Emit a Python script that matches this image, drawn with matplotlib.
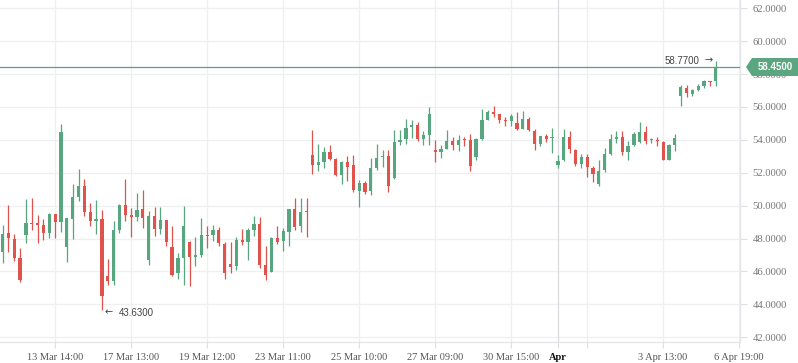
import matplotlib
matplotlib.use("Agg")
import matplotlib.pyplot as plt
from matplotlib.patches import Polygon
import numpy as np

# ---- data ----
opens = [47.20, 48.36, 47.97, 46.83, 48.24, 48.97, 48.95, 48.82, 48.36, 49.50,
         49.03, 47.50, 49.21, 50.55, 51.20, 49.62, 49.09, 49.19, 45.71, 45.43,
         48.52, 50.04, 49.43, 49.33, 49.82, 46.69, 49.37, 48.60, 49.13, 47.50,
         45.88, 46.83, 47.79, 46.89, 47.03, 48.19, 48.19, 48.49, 47.64, 46.48,
         46.32, 47.94, 47.78, 48.55, 48.86, 46.42, 45.98, 48.04, 47.84, 48.39,
         49.77, 48.75, 49.65, 53.10, 52.49, 52.63, 53.28, 52.86, 51.88, 52.67,
         52.49, 50.91, 51.38, 50.87, 52.30, 52.94, 53.04, 51.68, 53.87, 54.07,
         54.76, 54.93, 54.07, 54.32, 53.40, 53.24, 53.46, 53.95, 53.67, 54.01,
         54.01, 52.98, 54.07, 55.23, 55.70, 55.60, 55.23, 55.17, 55.03, 54.68,
         55.29, 54.56, 53.77, 54.22, 54.10, 52.48, 52.75, 54.17, 53.40, 52.56,
         52.93, 52.32, 51.29, 52.14, 53.15, 54.08, 54.17, 53.29, 53.66, 53.86,
         54.45, 53.98, 54.00, 53.90, 52.79, 53.70, 56.64, 57.15, 56.80, 57.05,
         57.29, 57.55, 57.55]
highs = [48.83, 50.04, 48.28, 47.44, 50.41, 50.49, 49.43, 49.19, 49.58, 49.50,
         54.98, 49.25, 51.33, 52.24, 51.63, 50.17, 50.35, 49.74, 46.75, 49.09,
         50.08, 51.63, 49.86, 50.78, 50.96, 49.68, 49.92, 49.92, 49.13, 48.76,
         47.10, 49.98, 47.85, 48.09, 49.22, 48.75, 48.80, 48.71, 47.80, 47.82,
         48.11, 48.61, 48.67, 49.40, 49.34, 47.52, 48.09, 48.77, 48.67, 49.81,
         50.44, 50.44, 50.44, 54.62, 53.77, 53.55, 53.71, 52.90, 52.73, 53.00,
         53.10, 51.54, 51.52, 52.92, 53.77, 53.36, 53.40, 54.62, 54.58, 55.29,
         55.23, 55.09, 54.56, 55.98, 54.01, 53.71, 54.62, 54.17, 54.32, 54.15,
         54.38, 54.11, 55.90, 55.84, 56.08, 55.60, 55.39, 55.57, 55.68, 55.78,
         55.37, 54.66, 54.22, 54.38, 54.71, 53.09, 54.65, 54.51, 53.44, 53.13,
         53.15, 52.44, 52.75, 53.50, 54.33, 54.55, 54.51, 53.96, 54.47, 55.10,
         54.86, 54.12, 54.17, 53.96, 53.76, 54.37, 57.35, 57.31, 57.09, 57.39,
         57.65, 57.61, 58.77]
lows = [46.49, 47.20, 46.65, 45.37, 47.75, 48.52, 47.75, 47.91, 48.05, 48.05,
        48.42, 46.59, 47.99, 50.31, 49.37, 48.79, 48.30, 43.63, 45.17, 45.17,
        48.36, 49.07, 48.11, 49.07, 48.66, 46.41, 48.15, 48.30, 47.57, 45.72,
        45.57, 45.19, 45.11, 46.35, 46.87, 47.42, 47.84, 47.54, 45.53, 45.89,
        46.08, 47.58, 46.69, 48.15, 46.20, 45.47, 45.96, 47.68, 47.23, 47.54,
        48.49, 48.39, 48.07, 51.94, 52.13, 52.31, 52.80, 51.78, 51.34, 51.48,
        50.81, 49.90, 50.73, 50.67, 52.15, 52.35, 50.81, 51.62, 53.67, 53.77,
        54.11, 53.91, 53.67, 53.71, 52.63, 52.91, 53.46, 53.40, 53.30, 53.61,
        52.09, 52.80, 54.01, 55.19, 55.39, 55.03, 54.82, 54.82, 54.62, 54.68,
        54.56, 53.40, 53.61, 53.85, 53.23, 52.28, 52.73, 53.20, 52.42, 52.30,
        51.73, 51.41, 51.22, 52.04, 53.09, 53.80, 53.07, 52.75, 53.60, 53.80,
        53.74, 53.84, 53.60, 52.79, 52.79, 53.35, 56.09, 56.58, 56.64, 56.95,
        57.15, 57.25, 57.25]
closes = [48.28, 48.05, 46.83, 45.47, 48.93, 48.89, 48.85, 48.36, 49.50, 49.03,
          54.46, 49.25, 50.53, 51.20, 49.64, 49.09, 49.19, 44.52, 45.43, 48.52,
          50.04, 49.43, 49.31, 49.74, 49.27, 49.37, 48.60, 49.13, 47.81, 45.78,
          46.81, 48.76, 46.89, 47.02, 48.19, 48.15, 48.49, 47.72, 45.89, 46.26,
          47.94, 47.78, 48.55, 48.86, 46.42, 45.81, 48.04, 47.82, 48.43, 49.77,
          48.69, 49.61, 49.61, 52.49, 52.63, 53.28, 52.86, 51.88, 52.67, 52.37,
          50.97, 51.38, 50.85, 52.30, 52.90, 53.04, 51.21, 53.87, 54.01, 54.72,
          54.93, 54.07, 54.32, 55.59, 53.24, 53.46, 53.95, 53.67, 54.01, 53.97,
          52.39, 54.07, 55.23, 55.70, 55.60, 55.23, 55.17, 55.47, 54.68, 55.29,
          54.58, 53.77, 54.22, 54.07, 54.13, 52.73, 54.17, 53.44, 52.54, 52.93,
          52.34, 51.91, 52.12, 53.13, 54.06, 54.17, 53.29, 53.64, 54.33, 54.47,
          53.96, 54.01, 53.94, 52.79, 53.70, 54.11, 57.19, 56.82, 57.05, 57.29,
          57.55, 57.52, 58.45]

tick_index = [9, 22, 35, 48, 61, 74, 87, 95, 100, 113, 126]
tick_labels = ["13 Mar 14:00", "17 Mar 13:00", "19 Mar 12:00", "23 Mar 11:00",
               "25 Mar 10:00", "27 Mar 09:00", "30 Mar 15:00", "Apr", "",
               "3 Apr 13:00", "6 Apr 19:00"]
y_ticks = [42, 44, 46, 48, 50, 52, 54, 56, 58, 60, 62]
last_price = 58.45
max_price = 58.77
min_price = 43.63

GREEN = "#57a67f"
RED = "#e0534d"
GRID = "#edeff2"

W, H = 798, 363
fig = plt.figure(figsize=(W / 100, H / 100), dpi=100)
fig.patch.set_facecolor("white")
ax = fig.add_axes([0, (H - 342) / H, 740 / W, 342 / H])
ax.set_facecolor("white")

n = len(opens)
x = np.arange(n)
o = np.array(opens); c = np.array(closes)
hi = np.array(highs); lo = np.array(lows)
up = c >= o
cols = np.where(up, GREEN, RED)

ax.vlines(x, lo, hi, colors=cols, linewidth=0.9, zorder=3)
bottoms = np.minimum(o, c)
heights = np.maximum(np.abs(c - o), 0.06)
ax.bar(x, heights, bottom=bottoms, width=0.55, color=cols, linewidth=0, zorder=4)

ax.set_xlim(-0.43, 126.15)
ax.set_ylim(41.71, 62.505)

# grid
for yv in y_ticks:
    ax.axhline(yv, color=GRID, linewidth=0.9, zorder=0)
for ti, lab in zip(tick_index, tick_labels):
    ax.axvline(ti, color="#d9dbde" if lab == "Apr" else GRID, linewidth=0.9, zorder=0)

# axes / ticks
for s in ["left", "top"]:
    ax.spines[s].set_visible(False)
for s in ["right", "bottom"]:
    ax.spines[s].set_color("#e3e5e8")
    ax.spines[s].set_linewidth(0.9)

ax.yaxis.tick_right()
ax.set_yticks(y_ticks)
ax.set_yticklabels([f"{v:.4f}" for v in y_ticks])
ax.tick_params(axis="y", direction="out", length=5, width=0.8, color="#dcdfe3",
               pad=4, labelsize=7.7, labelcolor="#777777")
ax.set_xticks(tick_index)
ax.set_xticklabels(tick_labels)
ax.tick_params(axis="x", direction="out", length=4, width=0.8, color="#dcdfe3",
               pad=4, labelsize=7.5, labelcolor="#555555")
for lab in ax.get_yticklabels() + ax.get_xticklabels():
    lab.set_family("Liberation Serif")
for lab in ax.get_xticklabels():
    if lab.get_text() == "Apr":
        lab.set_color("#111111")
        lab.set_fontweight("bold")

# last price line
ax.axhline(last_price, color="#5f9f80", linewidth=0.9, zorder=5)

# price label box (figure pixel coords)
yc = 67
pts = [(746, yc), (752, yc - 9), (798, yc - 9), (798, yc + 9), (752, yc + 9)]
poly = Polygon([(px / W, 1 - py / H) for px, py in pts], closed=True,
               transform=fig.transFigure, facecolor="#5aa680", edgecolor="none",
               zorder=10)
fig.patches.append(poly)
fig.text(775 / W, 1 - yc / H, f"{last_price:.4f}", ha="center", va="center",
         color="white", fontsize=7, fontweight="bold",
         family=["Liberation Sans", "DejaVu Sans"], zorder=11)

# max / min annotations
imax = int(np.argmax(hi))
imin = int(np.argmin(lo))
ax.annotate("\u2192", xy=(imax, max_price), xytext=(-2, 0.8),
            textcoords="offset points", ha="right", va="center",
            fontsize=7, color="#444444", family="DejaVu Sans")
ax.annotate(f"{max_price:.4f}", xy=(imax, max_price), xytext=(-12, 0.5),
            textcoords="offset points", ha="right", va="center",
            fontsize=7, color="#444444", family="Liberation Sans")
ax.annotate("\u2190", xy=(imin, min_price), xytext=(2, -1.0),
            textcoords="offset points", ha="left", va="center",
            fontsize=7, color="#444444", family="DejaVu Sans")
ax.annotate(f"{min_price:.4f}", xy=(imin, min_price), xytext=(12, -1.5),
            textcoords="offset points", ha="left", va="center",
            fontsize=7, color="#444444", family="Liberation Sans")

fig.savefig("out.png", dpi=100, facecolor="white")
